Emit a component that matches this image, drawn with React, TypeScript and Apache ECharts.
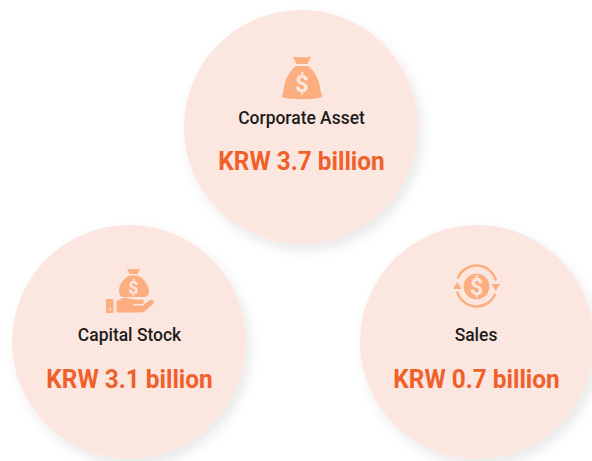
import React, { useEffect, useRef } from "react";
import * as echarts from "echarts";

const labels = ["Corporate Asset", "Capital Stock", "Sales"];
const amounts = ["KRW 3.7 billion", "KRW 3.1 billion", "KRW 0.7 billion"];
const centersX = [301, 129, 477];
const centersY = [127, 342, 342];
const labelX = [301.5, 129.5, 476];
const amountX = [301.5, 129.5, 476.5];
const labelY = [118, 335, 335];
const amountY = [161, 379, 379];

const BG = "#FCE7E0";
const ICON = "#FDAE80";
const ORANGE = "#F0602A";
const FONT = "Roboto, sans-serif";

const bagD =
  "M293 56.5 C297 57.5 299 57.5 302 57 C305 57.5 307 57.5 311 56.5 L307.5 64 L296.5 64 Z M296 66 L308 66 C315 71 320 81 320.5 91 C321 94 323 95 322 97 C316 100 288 100 282 97 C281 95 283 94 283.5 91 C284 81 289 71 296 66 Z";
const smallBagD =
  "M127 268.5 C130 269.5 131.5 269.500 133.500 269 C135.500 269.500 137 269.500 140 268.500 L137.500 274 L129.500 274 Z M129 275.500 L138 275.500 C144 279 149 285 149 291 C149 294 147.500 296.500 145 297 L122 297 C120 296 119 294 119 291 C119 285 123 279 129 275.500 Z";
const handD =
  "M106 299 L113.500 299 L113.500 313 L106 313 Z M116.500 301 L122 298.500 C127 297 131 299.500 136 299.500 L142 299.500 C144.500 300 144.500 303 142.500 304 L133 304 L133 305.500 L143 305.500 L149 300.500 C152 298.500 155 301 153 304 L145 311 C144 312 142 312.500 140 312.500 L116.500 312.500 Z";
const hand2Dot = "M109 308.500 L110.800 308.500 L110.800 310.300 L109 310.300 Z";

echarts.graphic.registerShape("bag", echarts.graphic.extendPath(bagD, {}));
echarts.graphic.registerShape("smallBag", echarts.graphic.extendPath(smallBagD, {}));
echarts.graphic.registerShape("hand", echarts.graphic.extendPath(handD, {}));
echarts.graphic.registerShape("handDot", echarts.graphic.extendPath(hand2Dot, {}));

const dollar = (x: number, y: number, size: number) => ({
  type: "text",
  x,
  y,
  silent: true,
  style: {
    text: "$",
    fill: BG,
    font: `700 ${size}px ${FONT}`,
    textAlign: "center",
    textVerticalAlign: "middle",
  },
});

const App = () => {
  const ref = useRef<HTMLDivElement>(null);
  useEffect(() => {
    document.body.style.margin = "0";
    const chart = echarts.init(ref.current!, undefined, { renderer: "svg" });
    const circles = centersX.map((cx, i) => ({
      type: "circle",
      shape: { cx, cy: centersY[i], r: 117 },
      style: {
        fill: BG,
        shadowBlur: 12,
        shadowOffsetX: 4,
        shadowOffsetY: 6,
        shadowColor: "rgba(0,0,0,0.09)",
      },
    }));
    const texts = labels.flatMap((label, i) => [
      {
        type: "text",
        x: labelX[i],
        y: labelY[i],
        scaleX: 0.97,
        style: {
          text: label,
          fill: "#1c1c1c",
          font: `500 18px ${FONT}`,
          textAlign: "center",
          textVerticalAlign: "middle",
        },
      },
      {
        type: "text",
        x: amountX[i],
        y: amountY[i],
        scaleX: 0.975,
        style: {
          text: amounts[i],
          fill: ORANGE,
          font: `700 25px ${FONT}`,
          textAlign: "center",
          textVerticalAlign: "middle",
        },
      },
    ]);
    const ringStyle = { fill: "none", stroke: ICON, lineWidth: 2.5 };
    const icons = [
      { type: "bag", x: 0, y: 0, style: { fill: ICON } },
      dollar(302, 84, 24),
      { type: "smallBag", x: 0, y: 0, style: { fill: ICON } },
      dollar(133.5, 287, 18),
      { type: "hand", x: 0, y: 0, style: { fill: ICON } },
      { type: "handDot", x: 0, y: 0, style: { fill: BG } },
      { type: "circle", shape: { cx: 476.5, cy: 286.5, r: 13 }, style: { fill: ICON } },
      dollar(476.5, 287, 23),
      {
        type: "arc",
        shape: { cx: 476.5, cy: 285.5, r: 20, startAngle: (-160 * Math.PI) / 180, endAngle: (-15 * Math.PI) / 180, clockwise: true },
        style: ringStyle,
      },
      {
        type: "arc",
        shape: { cx: 476.5, cy: 286.5, r: 20, startAngle: (20 * Math.PI) / 180, endAngle: (165 * Math.PI) / 180, clockwise: true },
        style: ringStyle,
      },
      { type: "polygon", shape: { points: [[491.5, 284], [500, 284], [495.750, 291]] }, style: { fill: ICON } },
      { type: "polygon", shape: { points: [[453, 289], [461.5, 289], [457.250, 282]] }, style: { fill: ICON } },
    ];
    chart.setOption({
      animation: false,
      backgroundColor: "#ffffff",
      graphic: { elements: [...circles, ...icons, ...texts] },
    });
    return () => chart.dispose();
  }, []);
  return <div ref={ref} style={{ width: 592, height: 461 }} />;
};

export default App;
